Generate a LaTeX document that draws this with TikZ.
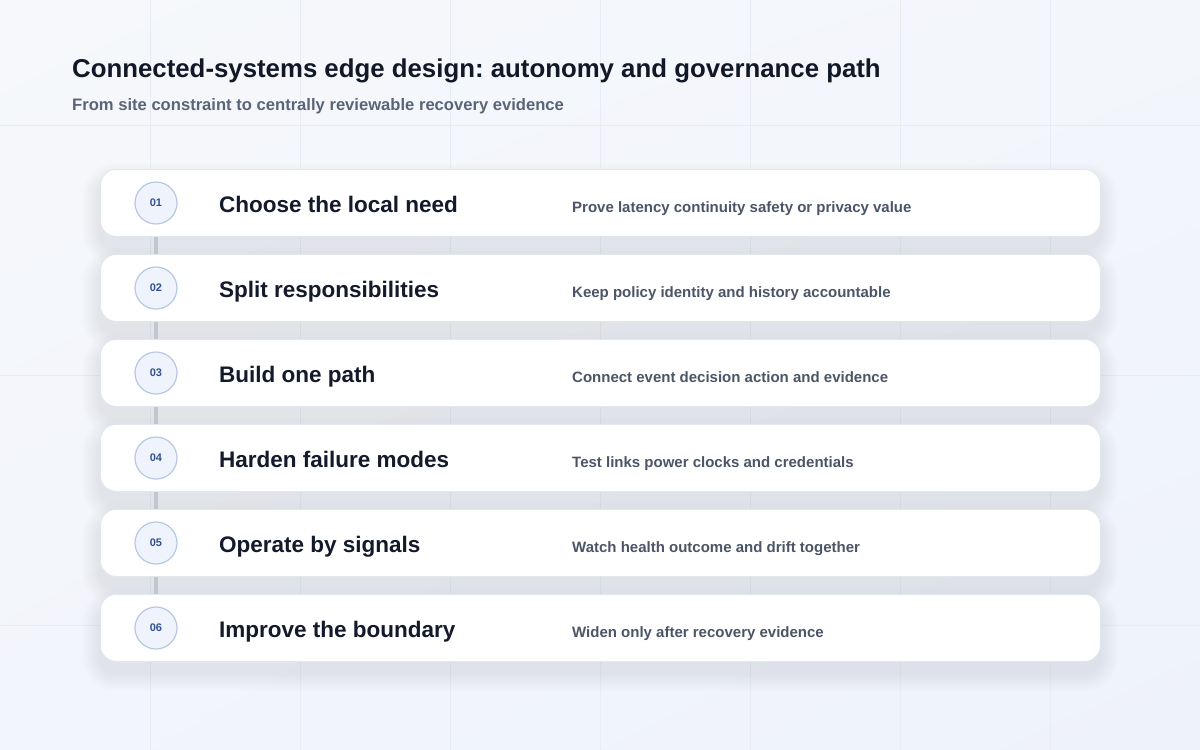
\documentclass[tikz,border=0pt]{standalone}
\usepackage{fontspec}
\setmainfont{Liberation Sans}
\frenchspacing
\usetikzlibrary{calc,shadings}
\pgfdeclarelayer{back}\pgfdeclarelayer{shad}\pgfdeclarelayer{conn}
\pgfsetlayers{back,shad,conn,main}
\definecolor{bgA}{HTML}{F6F8FB}
\definecolor{bgB}{HTML}{F3F6FB}
\definecolor{bgC}{HTML}{F2F5FB}
\definecolor{bgD}{HTML}{EEF2FB}
\definecolor{gridc}{HTML}{E8ECF3}
\definecolor{shadowc}{HTML}{2A3558}
\definecolor{titlec}{HTML}{111827}
\definecolor{subc}{HTML}{5A6478}
\definecolor{cardt}{HTML}{131A2B}
\definecolor{descc}{HTML}{4B5567}
\definecolor{numc}{HTML}{34518F}
\definecolor{circf}{HTML}{EEF3FC}
\definecolor{circd}{HTML}{B9C8E2}
\definecolor{cardd}{HTML}{E2E6EE}
\definecolor{connc}{HTML}{C2C6CE}
\tikzset{
  cardbox/.style={draw=cardd, line width=0.8pt, fill=white, rounded corners=16pt,
    minimum width=1000pt, minimum height=67pt, inner sep=0pt, anchor=north west},
  numbox/.style={circle, draw=circd, line width=1.2pt, fill=circf, minimum size=42pt,
    inner sep=0pt, text=numc, font=\fontsize{11}{13}\selectfont\bfseries},
  cardtitle/.style={anchor=base west, inner sep=0pt, text=cardt, font=\fontsize{22.5}{26}\selectfont\bfseries},
  carddesc/.style={anchor=base west, inner sep=0pt, text=descc, font=\fontsize{15}{18}\selectfont\bfseries},
  connline/.style={draw=connc, line width=4.5pt},
}
\begin{document}
\begin{tikzpicture}[x=1pt,y=-1pt]
\useasboundingbox (0,0) rectangle (1200,750);
\begin{pgfonlayer}{back}
\shade[upper left=bgA, upper right=bgB, lower left=bgC, lower right=bgD] (0,0) rectangle (1200,750);
\foreach \x in {150,300,...,1050} \draw[gridc, line width=1pt] (\x,0) -- (\x,750);
\foreach \y in {125,375,625} \draw[gridc, line width=1pt] (0,\y) -- (1200,\y);
\end{pgfonlayer}
\node[anchor=base west, inner sep=0pt, text=titlec, font=\fontsize{25.8}{30}\selectfont\bfseries] (title) at (72,77) {Connected-systems edge design: autonomy and governance path};
\node[anchor=base west, inner sep=0pt, text=subc, font=\fontsize{16.6}{20}\selectfont\bfseries] (subtitle) at (72,110) {From site constraint to centrally reviewable recovery evidence};
\foreach \n/\t/\d [count=\k] in {
  01/Choose the local need/Prove latency continuity safety or privacy value,
  02/Split responsibilities/Keep policy identity and history accountable,
  03/Build one path/Connect event decision action and evidence,
  04/Harden failure modes/Test links power clocks and credentials,
  05/Operate by signals/Watch health outcome and drift together,
  06/Improve the boundary/Widen only after recovery evidence} {
  \pgfmathsetmacro\tp{169+85*(\k-1)}
  \begin{pgfonlayer}{shad}
  \foreach \i in {1,...,9} {
    \pgfmathsetmacro\rr{16+2*\i}
    \fill[shadowc, opacity=0.0085, rounded corners=\rr pt] (100-2*\i, \tp+12-2*\i) rectangle (1100+2*\i, \tp+79+2*\i);
  }
  \end{pgfonlayer}
  \node[cardbox] (card\k) at (100,\tp) {};
  \node[numbox] (num\k) at (156,\tp+34) {\n};
  \node[cardtitle] (ct\k) at (219,\tp+43.5) {\t};
  \node[carddesc] (cd\k) at (572,\tp+43.5) {\d};
}
\begin{pgfonlayer}{conn}
\foreach \k [evaluate=\k as \j using int(\k+1)] in {1,...,5}
  \draw[connline] (num\k) -- (num\j);
\end{pgfonlayer}
\end{tikzpicture}
\end{document}
